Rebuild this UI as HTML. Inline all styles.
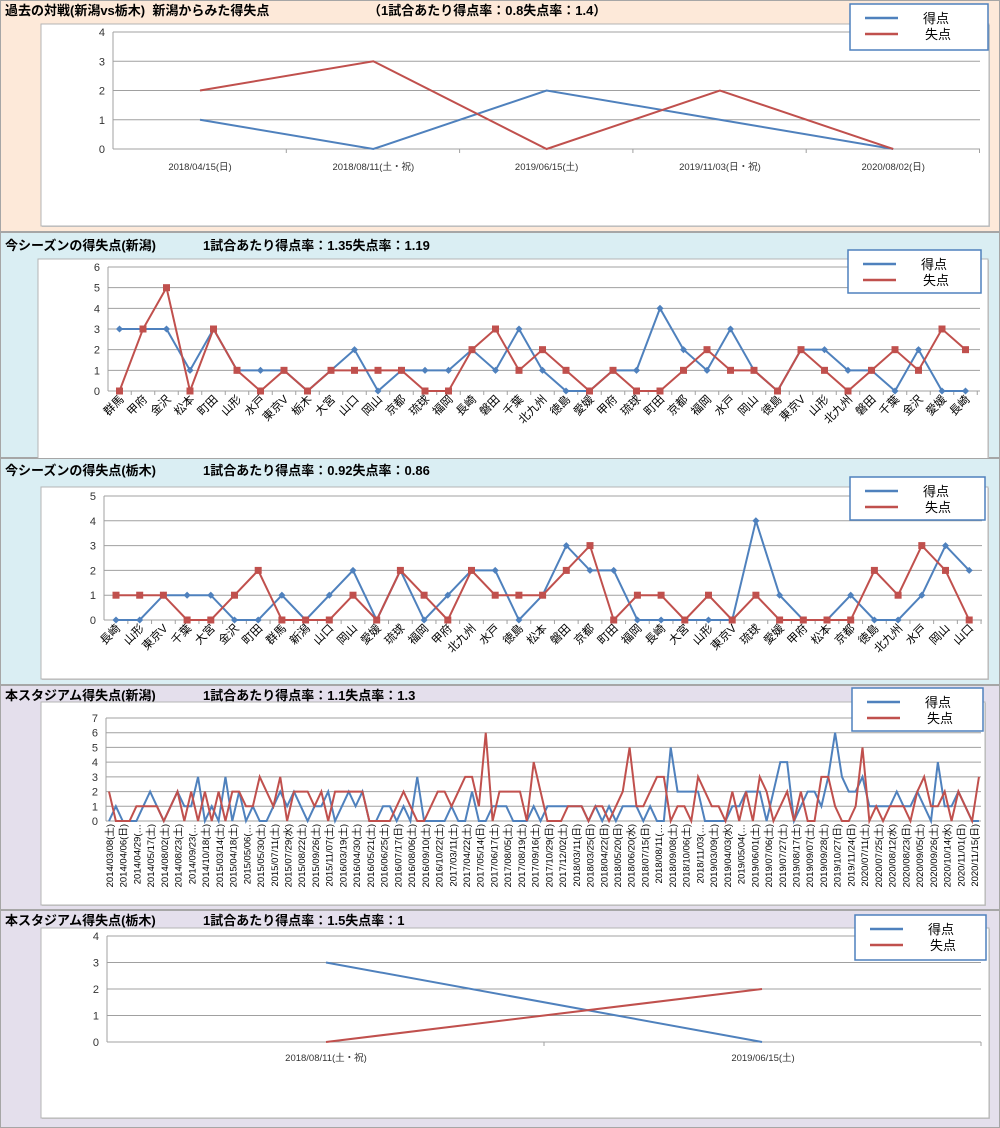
<!DOCTYPE html>
<html><head><meta charset="utf-8">
<style>
html,body{margin:0;padding:0;background:#fff;}
svg{display:block;font-family:"Liberation Sans","Noto Sans CJK JP",sans-serif;}
</style></head>
<body>
<svg id="s" width="1000" height="1128" xmlns="http://www.w3.org/2000/svg"></svg>
<script>
var B="#4f81bd",R="#c0504d",out=[];
function a(s){out.push(s);}
function txt(x,y,t,o){o=o||{};a('<text x="'+x+'" y="'+y+'" font-size="'+(o.fs||11)+'" fill="'+(o.c||'#000')+'"'+(o.b?' font-weight="bold"':'')+(o.anc?' text-anchor="'+o.anc+'"':'')+(o.tr?' transform="'+o.tr+'"':'')+'>'+t+'</text>');}
function panel(y0,y1,bg){a('<rect x="0.5" y="'+(y0+0.5)+'" width="999" height="'+(y1-y0-1)+'" fill="'+bg+'" stroke="#a6a6a6"/>');}
function box(x,y,w,h){a('<rect x="'+(x+1)+'" y="'+(y+1)+'" width="'+w+'" height="'+h+'" fill="#c8c8c8"/>');a('<rect x="'+x+'" y="'+y+'" width="'+w+'" height="'+h+'" fill="#fff" stroke="#b4b4b4"/>');}
function legend(x,y,w,h){a('<rect x="'+x+'" y="'+y+'" width="'+w+'" height="'+h+'" fill="#fff" stroke="#4f81bd" stroke-width="1.5"/>');
 a('<line x1="'+(x+15)+'" y1="'+(y+14)+'" x2="'+(x+48)+'" y2="'+(y+14)+'" stroke="'+B+'" stroke-width="2.5"/>');
 a('<line x1="'+(x+15)+'" y1="'+(y+30)+'" x2="'+(x+48)+'" y2="'+(y+30)+'" stroke="'+R+'" stroke-width="2.5"/>');
 txt(x+73,y+19,"得点",{fs:13});txt(x+75,y+35,"失点",{fs:13});}
function grid(ax,x2,yTop,y0,n){for(var i=0;i<=n;i++){var y=y0-(y0-yTop)*i/n;a('<line x1="'+ax+'" y1="'+y+'" x2="'+x2+'" y2="'+y+'" stroke="#a0a0a0" stroke-width="1"/>');txt(ax-8,y+4,i,{anc:"end",fs:11,c:"#333"});}
 a('<line x1="'+ax+'" y1="'+yTop+'" x2="'+ax+'" y2="'+y0+'" stroke="#a0a0a0"/>');}
function series(xs,vals,yTop,y0,n,col,mk){var p=[];for(var i=0;i<vals.length;i++){p.push(xs(i)+","+(y0-(y0-yTop)*vals[i]/n));}
 a('<polyline points="'+p.join(" ")+'" fill="none" stroke="'+col+'" stroke-width="2"/>');
 if(mk){for(var i=0;i<vals.length;i++){var x=xs(i),y=y0-(y0-yTop)*vals[i]/n;
  if(mk=="sq")a('<rect x="'+(x-3.5)+'" y="'+(y-3.5)+'" width="7" height="7" fill="'+col+'"/>');
  else a('<rect x="'+(x-2.5)+'" y="'+(y-2.5)+'" width="5" height="5" fill="'+col+'" transform="rotate(45 '+x+' '+y+')"/>');}}}

/* panel 1 */
panel(0,232,"#fde9d9");
txt(5,15,"過去の対戦(新潟vs栃木)&#160;&#160;新潟からみた得失点",{b:1,fs:13});
txt(368,15,"（1試合あたり得点率：0.8失点率：1.4）",{b:1,fs:13});
box(41,24,948,202);
grid(113,980,32,149,4);
var l1=["2018/04/15(日)","2018/08/11(土・祝)","2019/06/15(土)","2019/11/03(日・祝)","2020/08/02(日)"];
var x1=function(i){return 200+i*173.3;};
for(var i=0;i<5;i++){txt(x1(i),170,l1[i],{anc:"middle",fs:9.5,c:"#333"});a('<line x1="'+(113+173.3*(i+1))+'" y1="149" x2="'+(113+173.3*(i+1))+'" y2="153" stroke="#a0a0a0"/>');}
series(x1,[1,0,2,1,0],32,149,4,B);
series(x1,[2,3,0,2,0],32,149,4,R);
legend(850,4,138,46);

/* panel 2 */
panel(232,458,"#daeef3");
txt(5,250,"今シーズンの得失点(新潟)",{b:1,fs:13});txt(203,250,"1試合あたり得点率：1.35失点率：1.19",{b:1,fs:13});
box(38,259,950,200);
grid(108,980,267,391,6);
var n2=["群馬","甲府","金沢","松本","町田","山形","水戸","東京V","栃木","大宮","山口","岡山","京都","琉球","福岡","長崎","磐田","千葉","北九州","徳島","愛媛","甲府","琉球","町田","京都","福岡","水戸","岡山","徳島","東京V","山形","北九州","磐田","千葉","金沢","愛媛","長崎"];
var x2=function(i){return 119.5+i*23.5;};
for(var i=0;i<n2.length;i++){var x=x2(i)+5,y=400;txt(x,y,n2[i],{anc:"end",fs:11.5,tr:"rotate(-45 "+x+" "+y+")"});a('<line x1="'+(x2(i)+11.75)+'" y1="391" x2="'+(x2(i)+11.75)+'" y2="395" stroke="#a0a0a0"/>');}
series(x2,[3,3,3,1,3,1,1,1,0,1,2,0,1,1,1,2,1,3,1,0,0,1,1,4,2,1,3,1,0,2,2,1,1,0,2,0,0],267,391,6,B,"d");
series(x2,[0,3,5,0,3,1,0,1,0,1,1,1,1,0,0,2,3,1,2,1,0,1,0,0,1,2,1,1,0,2,1,0,1,2,1,3,2],267,391,6,R,"sq");
legend(848,250,133,43);

/* panel 3 */
panel(458,685,"#daeef3");
txt(5,475,"今シーズンの得失点(栃木)",{b:1,fs:13});txt(203,475,"1試合あたり得点率：0.92失点率：0.86",{b:1,fs:13});
box(41,487,947,192);
grid(104,982,496,620,5);
var n3=["長崎","山形","東京V","千葉","大宮","金沢","町田","群馬","新潟","山口","岡山","愛媛","琉球","福岡","甲府","北九州","水戸","徳島","松本","磐田","京都","町田","福岡","長崎","大宮","山形","東京V","琉球","愛媛","甲府","松本","京都","徳島","北九州","水戸","岡山","山口"];
var x3=function(i){return 116+i*23.7;};
for(var i=0;i<n3.length;i++){var x=x3(i)+5,y=629;txt(x,y,n3[i],{anc:"end",fs:11.5,tr:"rotate(-45 "+x+" "+y+")"});a('<line x1="'+(x3(i)+11.85)+'" y1="620" x2="'+(x3(i)+11.85)+'" y2="624" stroke="#a0a0a0"/>');}
series(x3,[0,0,1,1,1,0,0,1,0,1,2,0,2,0,1,2,2,0,1,3,2,2,0,0,0,0,0,4,1,0,0,1,0,0,1,3,2],496,620,5,B,"d");
series(x3,[1,1,1,0,0,1,2,0,0,0,1,0,2,1,0,2,1,1,1,2,3,0,1,1,0,1,0,1,0,0,0,0,2,1,3,2,0],496,620,5,R,"sq");
legend(850,477,135,43);

/* panel 4 */
panel(685,910,"#e4dfec");
txt(5,700,"本スタジアム得失点(新潟)",{b:1,fs:13});txt(203,700,"1試合あたり得点率：1.1失点率：1.3",{b:1,fs:13});
box(41,702,944,203);
grid(106,981,718,821,7);
var d4=["2014/03/08(土)","2014/04/06(日)","2014/04/29(…","2014/05/17(土)","2014/08/02(土)","2014/08/23(土)","2014/09/23(…","2014/10/18(土)","2015/03/14(土)","2015/04/18(土)","2015/05/06(…","2015/05/30(土)","2015/07/11(土)","2015/07/29(水)","2015/08/22(土)","2015/09/26(土)","2015/11/07(土)","2016/03/19(土)","2016/04/30(土)","2016/05/21(土)","2016/06/25(土)","2016/07/17(日)","2016/08/06(土)","2016/09/10(土)","2016/10/22(土)","2017/03/11(土)","2017/04/22(土)","2017/05/14(日)","2017/06/17(土)","2017/08/05(土)","2017/08/19(土)","2017/09/16(土)","2017/10/29(日)","2017/12/02(土)","2018/03/11(日)","2018/03/25(日)","2018/04/22(日)","2018/05/20(日)","2018/06/20(水)","2018/07/15(日)","2018/08/11(…","2018/09/08(土)","2018/10/06(土)","2018/11/03(…","2019/03/09(土)","2019/04/03(水)","2019/05/04(…","2019/06/01(土)","2019/07/06(土)","2019/07/27(土)","2019/08/17(土)","2019/09/07(土)","2019/09/28(土)","2019/10/27(日)","2019/11/24(日)","2020/07/11(土)","2020/07/25(土)","2020/08/12(水)","2020/08/23(日)","2020/09/05(土)","2020/09/26(土)","2020/10/14(水)","2020/11/01(日)","2020/11/15(日)"];
for(var i=0;i<d4.length;i++){var x=113+i*13.73,y=824;txt(x,y,d4[i],{anc:"end",fs:9.5,tr:"rotate(-90 "+x+" "+y+")"});}
var x4=function(i){return 109+i*6.85;};
series(x4,[0,1,0,0,0,1,2,1,0,1,2,1,1,3,0,1,0,3,0,2,0,1,0,0,1,2,1,2,1,0,1,1,2,0,1,2,1,2,0,0,1,1,0,1,0,3,0,0,0,0,1,0,0,2,0,0,1,1,1,0,0,0,1,0,1,1,1,1,1,1,0,1,0,1,0,1,1,1,0,1,0,0,5,2,2,2,2,0,0,0,0,1,1,2,2,2,0,2,4,4,0,1,2,2,1,3,6,3,2,2,3,1,1,1,1,2,1,1,2,1,0,4,1,1,2,1,0,0],718,821,7,B);
series(x4,[2,0,0,0,1,1,1,1,0,1,2,0,2,0,2,0,2,0,2,2,1,1,3,2,1,3,0,2,2,2,1,2,0,2,2,2,2,2,0,0,0,0,1,2,1,0,0,1,2,2,1,2,3,3,1,6,0,2,2,2,2,0,4,2,0,0,0,1,1,1,0,1,1,0,1,2,5,1,1,2,3,3,0,1,1,0,3,2,1,1,0,2,0,2,0,3,2,0,1,2,0,2,0,0,3,3,1,0,0,1,5,0,1,0,1,1,1,0,2,3,1,1,2,0,2,1,0,3],718,821,7,R);
legend(852,688,131,43);

/* panel 5 */
panel(910,1128,"#e4dfec");
txt(5,925,"本スタジアム得失点(栃木)",{b:1,fs:13});txt(203,925,"1試合あたり得点率：1.5失点率：1",{b:1,fs:13});
box(41,928,948,190);
grid(107,981,936,1042,4);
var x5=function(i){return 326+i*436;};
txt(326,1061,"2018/08/11(土・祝)",{anc:"middle",fs:9.5,c:"#333"});txt(763,1061,"2019/06/15(土)",{anc:"middle",fs:9.5,c:"#333"});
a('<line x1="544" y1="1042" x2="544" y2="1046" stroke="#a0a0a0"/><line x1="981" y1="1042" x2="981" y2="1046" stroke="#a0a0a0"/>');
series(x5,[3,0],936,1042,4,B);
series(x5,[0,2],936,1042,4,R);
legend(855,915,131,45);
document.getElementById("s").innerHTML=out.join("");
</script>
</body></html>
